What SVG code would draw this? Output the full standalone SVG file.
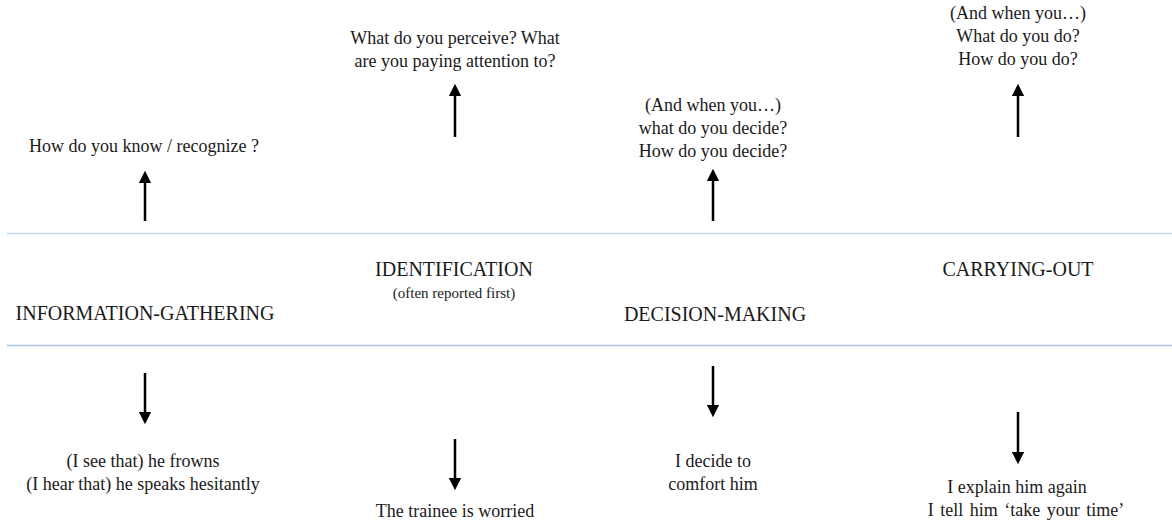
<svg xmlns="http://www.w3.org/2000/svg" width="1172" height="526" viewBox="0 0 1172 526">
  <style>
    text { font-family: "Liberation Serif", "Times New Roman", serif; fill: #1a1a1a; text-anchor: middle; }
    .q { font-size: 18px; }
    .phase { font-size: 20px; }
    .note { font-size: 15px; }
    .ex { font-size: 18px; }
    .arrow { stroke: #000; stroke-width: 2.5; fill: none; marker-end: url(#head); }
  </style>
  <defs>
    <marker id="head" markerWidth="5" markerHeight="5" refX="2.5" refY="2.5" orient="auto" markerUnits="strokeWidth" viewBox="0 0 5 5">
      <path d="M0,0 L5,2.5 L0,5 Z" fill="#000"/>
    </marker>
  </defs>
  <rect width="1172" height="526" fill="#fff"/>

  <!-- band boundaries -->
  <g id="bands">
    <line x1="7" y1="233.5" x2="1172" y2="233.5" stroke="#c4d8ea" stroke-width="1.5"/>
    <line x1="7" y1="345.5" x2="1172" y2="345.5" stroke="#a9c1da" stroke-width="1.5"/>
  </g>

  <!-- phases -->
  <g id="information-gathering">
    <text class="phase" x="145" y="320">INFORMATION-GATHERING</text>
  </g>
  <g id="identification">
    <text class="phase" x="454" y="276">IDENTIFICATION</text>
    <text class="note" x="454" y="298">(often reported first)</text>
  </g>
  <g id="decision-making">
    <text class="phase" x="715" y="321">DECISION-MAKING</text>
  </g>
  <g id="carrying-out">
    <text class="phase" x="1018" y="276">CARRYING-OUT</text>
  </g>

  <!-- questions -->
  <g id="q-information">
    <text class="q" x="144" y="152">How do you know / recognize ?</text>
  </g>
  <g id="q-identification">
    <text class="q" x="455" y="44">What do you perceive? What</text>
    <text class="q" x="455" y="67">are you paying attention to?</text>
  </g>
  <g id="q-decision">
    <text class="q" x="713" y="111">(And when you…)</text>
    <text class="q" x="713" y="134">what do you decide?</text>
    <text class="q" x="713" y="157">How do you decide?</text>
  </g>
  <g id="q-carrying">
    <text class="q" x="1018" y="19">(And when you…)</text>
    <text class="q" x="1018" y="42">What do you do?</text>
    <text class="q" x="1018" y="65">How do you do?</text>
  </g>

  <!-- examples -->
  <g id="ex-information">
    <text class="ex" x="143" y="467">(I see that) he frowns</text>
    <text class="ex" x="143" y="490">(I hear that) he speaks hesitantly</text>
  </g>
  <g id="ex-identification">
    <text class="ex" x="455" y="517">The trainee is worried</text>
  </g>
  <g id="ex-decision">
    <text class="ex" x="713" y="467">I decide to</text>
    <text class="ex" x="713" y="490">comfort him</text>
  </g>
  <g id="ex-carrying">
    <text class="ex" x="1017" y="493">I explain him again</text>
    <text class="ex" x="1026" y="516" word-spacing="2">I tell him ‘take your time’</text>
  </g>

  <!-- connectors -->
  <g id="connectors">
    <line class="arrow" x1="145" y1="221" x2="145" y2="177"/>
    <line class="arrow" x1="455" y1="137" x2="455" y2="90"/>
    <line class="arrow" x1="713" y1="221" x2="713" y2="175"/>
    <line class="arrow" x1="1018" y1="137" x2="1018" y2="90"/>
    <line class="arrow" x1="145" y1="373" x2="145" y2="418"/>
    <line class="arrow" x1="455" y1="439" x2="455" y2="484"/>
    <line class="arrow" x1="713" y1="366" x2="713" y2="411"/>
    <line class="arrow" x1="1018" y1="412" x2="1018" y2="458"/>
  </g>
</svg>
